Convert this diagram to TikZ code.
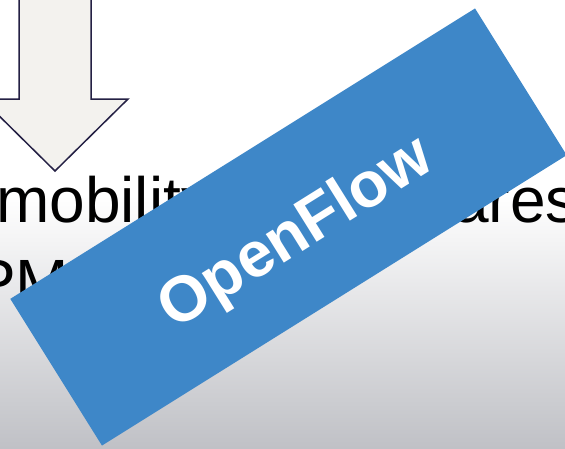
\documentclass[tikz,border=0pt]{standalone}
\usepackage{fontspec}
\setmainfont{Liberation Sans}
\definecolor{bannerblue}{RGB}{62,135,200}
\definecolor{arrowfill}{RGB}{243,242,238}
\definecolor{arrowline}{RGB}{36,32,68}
\definecolor{floorgray}{RGB}{192,193,198}
\tikzset{
  bodytext/.style={anchor=base west, inner sep=0pt, text=black,
    font=\fontsize{64}{64}\selectfont},
  bannerbox/.style={rotate=32, fill=bannerblue, inner sep=0pt,
    minimum width=548pt, minimum height=173pt},
  bannertext/.style={rotate=32, inner sep=0pt, text=white,
    font=\bfseries\fontsize{64}{64}\selectfont},
  blockarrow/.style={fill=arrowfill, draw=arrowline, line width=1.5pt, line join=miter}
}
\begin{document}
\begin{tikzpicture}[x=1pt, y=-1pt]
  % canvas and background
  \useasboundingbox (0,0) rectangle (565,448);
  \fill[white] (0,0) rectangle (565,195);
  \shade[top color=white, bottom color=floorgray] (0,195) rectangle (565,448);

  % downward block arrow
  \draw[blockarrow] (19,-3) -- (19,99) -- (-18,99) -- (55,171)
    -- (128,99) -- (91,99) -- (91,-3) -- cycle;

  % slide text
  \node[bodytext] (line1a) at (-4,222) {mobility};
  \node[bodytext] (line1b) at (453,222) {ares};
  \node[bodytext] (line2) at (-27,304) {PM};

  % diagonal banner and its label
  \node[bannerbox] (banner) at (288.5,227) {};
  \node[bannertext] (bannerlabel) at (297,235) {OpenFlow};
\end{tikzpicture}
\end{document}
